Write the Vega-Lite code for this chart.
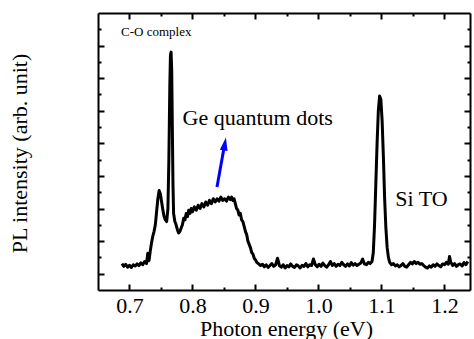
{
  "$schema": "https://vega.github.io/schema/vega-lite/v6.json",
  "width": 372,
  "height": 277,
  "autosize": {"type": "none"},
  "padding": {"left": 98, "top": 13, "right": 4, "bottom": 49},
  "background": "white",
  "config": {
    "font": "Liberation Serif, Times New Roman, Times, serif",
    "view": {"stroke": null},
    "axis": {
      "domainColor": "black", "domainWidth": 2,
      "tickColor": "black", "tickWidth": 2,
      "grid": false,
      "labelFont": "Liberation Serif, Times New Roman, Times, serif", "labelFontSize": 22, "labelColor": "black",
      "titleFont": "Liberation Serif, Times New Roman, Times, serif", "titleFontSize": 22, "titleColor": "black", "titleFontWeight": "normal"
    }
  },
  "resolve": {"axis": {"x": "independent", "y": "independent"}},
  "layer": [
    {
      "data": {"values": [
        {"e":0.688,"i":1.62},{"e":0.691,"i":1.45},{"e":0.694,"i":1.58},{"e":0.697,"i":1.40},{"e":0.700,"i":1.52},{"e":0.703,"i":1.38},{"e":0.706,"i":1.55},{"e":0.709,"i":1.47},{"e":0.712,"i":1.60},{"e":0.715,"i":1.50},{"e":0.718,"i":1.66},{"e":0.721,"i":1.55},{"e":0.724,"i":1.75},{"e":0.727,"i":1.62},{"e":0.729,"i":2.25},{"e":0.731,"i":1.80},{"e":0.733,"i":2.4},{"e":0.735,"i":2.9},{"e":0.737,"i":3.3},{"e":0.739,"i":3.6},{"e":0.741,"i":4.0},{"e":0.743,"i":4.8},{"e":0.745,"i":5.6},{"e":0.747,"i":6.1},{"e":0.749,"i":5.9},{"e":0.751,"i":5.4},{"e":0.753,"i":4.9},{"e":0.755,"i":4.5},{"e":0.757,"i":4.3},{"e":0.759,"i":4.2},{"e":0.761,"i":5.0},{"e":0.7625,"i":8.0},{"e":0.764,"i":12.5},{"e":0.765,"i":14.4},{"e":0.766,"i":14.6},{"e":0.767,"i":13.5},{"e":0.768,"i":10.0},{"e":0.769,"i":6.5},{"e":0.770,"i":4.7},{"e":0.772,"i":4.2},{"e":0.774,"i":4.0},{"e":0.776,"i":3.7},{"e":0.778,"i":3.5},{"e":0.780,"i":3.6},{"e":0.782,"i":3.8},{"e":0.784,"i":4.0},{"e":0.786,"i":4.4},{"e":0.788,"i":4.3},{"e":0.790,"i":4.7},{"e":0.792,"i":4.5},{"e":0.794,"i":4.9},{"e":0.796,"i":4.7},{"e":0.798,"i":5.0},{"e":0.800,"i":4.8},{"e":0.803,"i":5.1},{"e":0.806,"i":4.9},{"e":0.809,"i":5.2},{"e":0.812,"i":5.0},{"e":0.815,"i":5.3},{"e":0.818,"i":5.1},{"e":0.821,"i":5.4},{"e":0.824,"i":5.2},{"e":0.827,"i":5.5},{"e":0.830,"i":5.3},{"e":0.833,"i":5.6},{"e":0.836,"i":5.4},{"e":0.839,"i":5.6},{"e":0.842,"i":5.45},{"e":0.845,"i":5.7},{"e":0.848,"i":5.5},{"e":0.851,"i":5.6},{"e":0.854,"i":5.45},{"e":0.857,"i":5.7},{"e":0.860,"i":5.55},{"e":0.862,"i":5.7},{"e":0.864,"i":5.5},{"e":0.866,"i":5.6},{"e":0.868,"i":5.3},{"e":0.870,"i":5.0},{"e":0.872,"i":4.9},{"e":0.874,"i":4.6},{"e":0.876,"i":4.7},{"e":0.878,"i":4.3},{"e":0.880,"i":4.2},{"e":0.882,"i":3.9},{"e":0.884,"i":3.6},{"e":0.886,"i":3.4},{"e":0.888,"i":3.0},{"e":0.890,"i":2.8},{"e":0.892,"i":2.6},{"e":0.894,"i":2.3},{"e":0.896,"i":2.2},{"e":0.898,"i":1.95},{"e":0.900,"i":1.85},{"e":0.902,"i":1.7},{"e":0.905,"i":1.6},{"e":0.908,"i":1.5},
        {"e":0.911,"i":1.58},{"e":0.914,"i":1.42},{"e":0.917,"i":1.55},{"e":0.920,"i":1.38},{"e":0.923,"i":1.50},{"e":0.926,"i":1.62},{"e":0.929,"i":1.45},{"e":0.932,"i":1.55},{"e":0.935,"i":1.95},{"e":0.938,"i":1.50},{"e":0.941,"i":1.40},{"e":0.944,"i":1.55},{"e":0.947,"i":1.35},{"e":0.950,"i":1.50},{"e":0.953,"i":1.42},{"e":0.956,"i":1.60},{"e":0.959,"i":1.45},{"e":0.962,"i":1.38},{"e":0.965,"i":1.55},{"e":0.968,"i":1.48},{"e":0.971,"i":1.35},{"e":0.974,"i":1.52},{"e":0.977,"i":1.45},{"e":0.980,"i":1.62},{"e":0.983,"i":1.42},{"e":0.986,"i":1.55},{"e":0.989,"i":1.50},{"e":0.992,"i":1.90},{"e":0.995,"i":1.55},{"e":0.998,"i":1.42},{"e":1.001,"i":1.58},{"e":1.004,"i":1.45},{"e":1.007,"i":1.65},{"e":1.010,"i":1.50},{"e":1.013,"i":1.40},{"e":1.016,"i":1.55},{"e":1.019,"i":1.75},{"e":1.022,"i":1.50},{"e":1.025,"i":1.62},{"e":1.028,"i":1.45},{"e":1.031,"i":1.58},{"e":1.034,"i":1.50},{"e":1.037,"i":1.70},{"e":1.040,"i":1.55},{"e":1.043,"i":1.45},{"e":1.046,"i":1.60},{"e":1.049,"i":1.48},{"e":1.052,"i":1.68},{"e":1.055,"i":1.52},{"e":1.058,"i":1.62},{"e":1.061,"i":1.50},{"e":1.064,"i":1.58},{"e":1.067,"i":1.65},{"e":1.070,"i":1.90},{"e":1.073,"i":1.60},{"e":1.076,"i":1.55},{"e":1.079,"i":1.70},{"e":1.082,"i":1.62},{"e":1.085,"i":1.75},{"e":1.087,"i":2.3},{"e":1.089,"i":4.0},{"e":1.091,"i":6.5},{"e":1.093,"i":9.0},{"e":1.095,"i":11.0},{"e":1.097,"i":11.9},{"e":1.099,"i":11.7},{"e":1.101,"i":10.4},{"e":1.103,"i":8.2},{"e":1.105,"i":5.6},{"e":1.107,"i":3.8},{"e":1.109,"i":2.6},{"e":1.111,"i":2.0},{"e":1.113,"i":1.7},{"e":1.116,"i":1.55},{"e":1.119,"i":1.62},{"e":1.122,"i":1.48},{"e":1.125,"i":1.55},{"e":1.128,"i":1.42},{"e":1.131,"i":1.50},{"e":1.134,"i":1.62},{"e":1.137,"i":1.45},{"e":1.140,"i":1.40},{"e":1.143,"i":1.55},{"e":1.146,"i":1.70},{"e":1.149,"i":1.60},{"e":1.152,"i":1.75},{"e":1.155,"i":1.62},{"e":1.158,"i":1.70},{"e":1.161,"i":1.58},{"e":1.164,"i":1.62},{"e":1.167,"i":1.50},{"e":1.170,"i":1.40},{"e":1.173,"i":1.35},{"e":1.176,"i":1.48},{"e":1.179,"i":1.40},{"e":1.182,"i":1.55},{"e":1.185,"i":1.45},{"e":1.188,"i":1.60},{"e":1.191,"i":1.50},{"e":1.194,"i":1.42},{"e":1.197,"i":1.60},{"e":1.200,"i":1.55},{"e":1.203,"i":1.70},{"e":1.206,"i":1.58},{"e":1.208,"i":2.05},{"e":1.210,"i":1.70},{"e":1.213,"i":1.50},{"e":1.216,"i":1.62},{"e":1.219,"i":1.45},{"e":1.222,"i":1.55},{"e":1.225,"i":1.60},{"e":1.228,"i":1.48},{"e":1.231,"i":1.68},{"e":1.234,"i":1.55},{"e":1.237,"i":1.75}
      ]},
      "mark": {"type": "line", "color": "black", "strokeWidth": 3, "strokeJoin": "round"},
      "encoding": {
        "x": {"field": "e", "type": "quantitative",
          "scale": {"domain": [0.65, 1.2405], "nice": false, "zero": false},
          "axis": {"orient": "bottom", "title": "Photon energy (eV)",
            "values": [0.7,0.75,0.8,0.85,0.9,0.95,1.0,1.05,1.1,1.15,1.2],
            "labelExpr": "round(datum.value*100) % 10 == 0 ? format(datum.value, '.1f') : ''",
            "tickSize": {"condition": {"test": "round(datum.value*100) % 10 == 0", "value": -6}, "value": -3},
            "labelFont": "Liberation Serif, Times New Roman, Times, serif",
            "titleFont": "Liberation Serif, Times New Roman, Times, serif",
            "labelBaseline": "alphabetic", "labelPadding": 28, "labelFlush": false, "labelOverlap": false,
            "titleX": 188, "titleY": 45, "titleBaseline": "alphabetic", "titleAnchor": null}},
        "y": {"field": "i", "type": "quantitative",
          "scale": {"domain": [0, 17], "nice": false, "zero": false},
          "axis": {"orient": "left", "title": "PL intensity (arb. unit)",
            "values": [1,2,3,4,5,6,7,8,9,10,11,12,13,14,15,16],
            "labels": false,
            "titleFont": "Liberation Serif, Times New Roman, Times, serif",
            "tickSize": {"condition": {"test": "datum.value % 2 == 1", "value": -6}, "value": -3},
            "titleX": -79, "titleY": 140, "titleAngle": -90, "titleBaseline": "middle", "titleAlign": "center", "titleAnchor": null}}
      }
    },
    {
      "data": {"values": [{"e": 1.1635, "i": 5.17, "t": "Si TO"}, {"e": 0.9035, "i": 10.1, "t": "Ge quantum dots"}]},
      "mark": {"type": "text", "font": "Liberation Serif, Times New Roman, Times, serif", "fontSize": 22, "color": "black", "align": "center", "baseline": "alphabetic"},
      "encoding": {
        "x": {"field": "e", "type": "quantitative",
          "scale": {"domain": [0.65, 1.2405], "nice": false, "zero": false},
          "axis": {"orient": "top", "title": null, "labels": false,
            "values": [0.7,0.75,0.8,0.85,0.9,0.95,1.0,1.05,1.1,1.15,1.2],
            "tickSize": {"condition": {"test": "round(datum.value*100) % 10 == 0", "value": -6}, "value": -3}}},
        "y": {"field": "i", "type": "quantitative",
          "scale": {"domain": [0, 17], "nice": false, "zero": false},
          "axis": {"orient": "right", "title": null, "labels": false,
            "values": [1,2,3,4,5,6,7,8,9,10,11,12,13,14,15,16],
            "tickSize": {"condition": {"test": "datum.value % 2 == 1", "value": -6}, "value": -3}}},
        "text": {"field": "t"}
      }
    },
    {
      "data": {"values": [{"e": 0.6865, "i": 15.6, "t": "C-O complex"}]},
      "mark": {"type": "text", "font": "Liberation Serif, Times New Roman, Times, serif", "fontSize": 13, "color": "black", "align": "left", "baseline": "alphabetic"},
      "encoding": {
        "x": {"field": "e", "type": "quantitative", "axis": null},
        "y": {"field": "i", "type": "quantitative", "axis": null},
        "text": {"field": "t"}
      }
    },
    {
      "data": {"values": [{"e": 0.8389, "i": 6.32, "e2": 0.8497, "i2": 8.65}]},
      "mark": {"type": "rule", "color": "#0000ff", "strokeWidth": 3},
      "encoding": {
        "x": {"field": "e", "type": "quantitative", "axis": null},
        "y": {"field": "i", "type": "quantitative", "axis": null},
        "x2": {"field": "e2"},
        "y2": {"field": "i2"}
      }
    },
    {
      "data": {"values": [{"e": 0.8513, "i": 8.96}]},
      "mark": {"type": "point", "shape": "M-0.6,1L0,-1L0.6,1Z", "filled": true, "color": "#0000ff", "opacity": 1, "size": 170, "angle": 10},
      "encoding": {
        "x": {"field": "e", "type": "quantitative", "axis": null},
        "y": {"field": "i", "type": "quantitative", "axis": null}
      }
    }
  ]
}
